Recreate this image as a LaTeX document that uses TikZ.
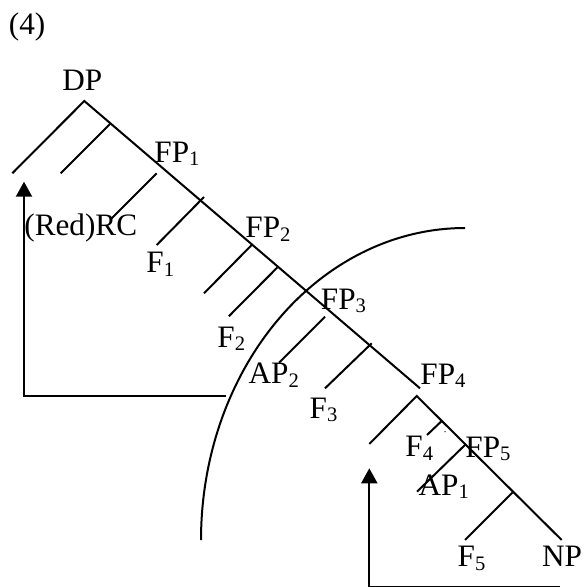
\documentclass[tikz,border=0pt]{standalone}
\usepackage{fontspec}
\setmainfont{Liberation Serif}
\usetikzlibrary{arrows.meta}
\newcommand\lsub[1]{\raisebox{-1.8pt}{\fontsize{10.3}{11}\selectfont #1}}
\tikzset{
  lbl/.style={inner sep=0pt, anchor=base west, font=\fontsize{15.6}{17}\selectfont},
  branch/.style={line width=1pt},
  move/.style={line width=1.1pt, -{Triangle[length=7.5pt,width=8pt]}},
}
\begin{document}
\begin{tikzpicture}[x=0.5pt,y=-0.5pt]
\useasboundingbox (0,0) rectangle (584,587);
% labels
\node[lbl] (num) at (8.5,34.3) {(4)};
\node[lbl] (DP) at (62,90.7) {DP};
\node[lbl] (FP1) at (154,162.3) {FP\lsub{1}};
\node[lbl] (RC) at (24,235) {(Red)RC};
\node[lbl] (F1) at (146,272.7) {F\lsub{1}};
\node[lbl] (FP2) at (245,237.7) {FP\lsub{2}};
\node[lbl] (F2) at (217,347) {F\lsub{2}};
\node[lbl] (FP3) at (320.5,309.3) {FP\lsub{3}};
\node[lbl] (AP2) at (248.3,383.8) {AP\lsub{2}};
\node[lbl] (F3) at (309.3,418.3) {F\lsub{3}};
\node[lbl] (FP4) at (420,384) {FP\lsub{4}};
\node[lbl] (F4) at (405,456.7) {F\lsub{4}};
\node[lbl] (FP5) at (465,457.3) {FP\lsub{5}};
\node[lbl] (AP1) at (418.3,495) {AP\lsub{1}};
\node[lbl] (F5) at (457.3,566.7) {F\lsub{5}};
\node[lbl] (NP) at (541.7,566.7) {NP};
% upper tree
\coordinate (top) at (84.3,101);
\coordinate (spineEnd) at (420,388.3);
\coordinate (leftEnd) at (12.3,173.3);
\coordinate (b1) at (110,124); \coordinate (b1e) at (60.7,173.3);
\coordinate (b2) at (156.7,173.3); \coordinate (b2e) at (111,219);
\coordinate (b3) at (204,197); \coordinate (b3e) at (156.7,245);
\coordinate (b4) at (251.7,245); \coordinate (b4e) at (204,293.3);
\coordinate (b5) at (277.3,267.5); \coordinate (b5e) at (228.8,316.3);
\coordinate (b6) at (325,316.7); \coordinate (b6e) at (279,362.7);
\coordinate (b7) at (371.7,343.3); \coordinate (b7e) at (325,388.3);
\draw[branch] (leftEnd) -- (top) -- (spineEnd);
\draw[branch] (b1) -- (b1e);
\draw[branch] (b2) -- (b2e);
\draw[branch] (b3) -- (b3e);
\draw[branch] (b4) -- (b4e);
\draw[branch] (b5) -- (b5e);
\draw[branch] (b6) -- (b6e);
\draw[branch] (b7) -- (b7e);
% lower tree
\coordinate (top2) at (416.7,396);
\coordinate (left2) at (369.3,444);
\coordinate (end2) at (561.7,540);
\coordinate (c1) at (441.7,421); \coordinate (c1e) at (427,435);
\coordinate (c2) at (466,444); \coordinate (c2e) at (417,491.7);
\coordinate (c3) at (512.5,492.5); \coordinate (c3e) at (465,540);
\draw[branch] (left2) -- (top2) -- (end2);
\draw[branch] (c1) -- (c1e);
\draw[branch] (c2) -- (c2e);
\draw[branch] (c3) -- (c3e);
\fill (445,431.7) circle (0.7);
% arc
\draw[line width=1pt] plot[domain=90:180, samples=80, smooth] ({465+264*cos(\x)}, {540-312*sin(\x)});
% movement arrows
\coordinate (m1s) at (226,396);
\coordinate (m1c) at (24,396);
\coordinate (m1t) at (24,181.7);
\draw[move] (m1s) -- (m1c) -- (m1t);
\coordinate (m2s) at (560,586.8);
\coordinate (m2c) at (369.3,586.8);
\coordinate (m2t) at (369.3,468.3);
\draw[move] (m2s) -- (m2c) -- (m2t);
\end{tikzpicture}
\end{document}
